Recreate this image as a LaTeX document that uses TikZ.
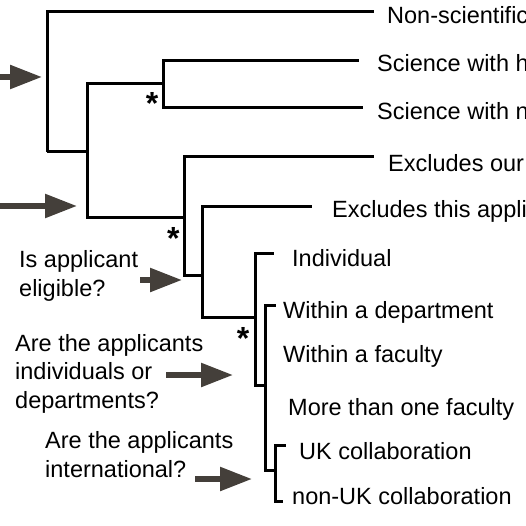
\documentclass[tikz,border=0pt]{standalone}
\usepackage{fontspec}
\setmainfont{Liberation Sans}
\usetikzlibrary{arrows.meta}
\definecolor{arrowgray}{RGB}{68,63,58}

\begin{document}
\begin{tikzpicture}[
    x=1pt, y=-1pt,
    branch/.style={draw=black, line width=3pt},
    pointer/.style={draw=arrowgray, line width=5.5pt, -{Triangle[length=32pt,width=23pt]}},
    leaf/.style={anchor=base west, inner sep=0pt, font=\fontsize{23.5}{28.3}\selectfont},
    question/.style={leaf, align=left},
    star/.style={anchor=base, inner sep=0pt, font=\fontsize{32}{32}\selectfont\bfseries}
  ]
  \useasboundingbox (0,0) rectangle (526,526);
  \clip (0,0) rectangle (526,526);

  \coordinate (n1) at (47,152);
  \coordinate (n2) at (87,152);
  \coordinate (n3) at (163,84);
  \coordinate (n4) at (184,218);
  \coordinate (n5) at (202,275);
  \coordinate (n6) at (255,317);
  \coordinate (n7) at (265,385);
  \coordinate (n8) at (275,470);
  \coordinate (tNonsci) at (374,12);
  \coordinate (tSciH) at (359,61);
  \coordinate (tSciN) at (363,108);
  \coordinate (tExclOur) at (374,157);
  \coordinate (tExclThis) at (312,207);
  \coordinate (tIndiv) at (274,253);
  \coordinate (tDept) at (276,305);
  \coordinate (tUK) at (286,445);
  \coordinate (tNonUK) at (283,501);

  \draw[branch] (n1) |- (tNonsci);
  \draw[branch] (n1) -- (n2);
  \draw[branch] (n2) |- (n3);
  \draw[branch] (n2) |- (n4);
  \draw[branch] (n3) |- (tSciH);
  \draw[branch] (n3) |- (tSciN);
  \draw[branch] (n4) |- (tExclOur);
  \draw[branch] (n4) |- (n5);
  \draw[branch] (n5) |- (tExclThis);
  \draw[branch] (n5) |- (n6);
  \draw[branch] (n6) |- (tIndiv);
  \draw[branch] (n6) |- (n7);
  \draw[branch] (n7) |- (tDept);
  \draw[branch] (n7) |- (n8);
  \draw[branch] (n8) |- (tUK);
  \draw[branch] (n8) |- (tNonUK);

  \node[leaf] (lNonsci) at (387,23.5) {Non-scientific};
  \node[leaf] (lSciH) at (377,71.5) {Science with h};
  \node[leaf] (lSciN) at (377,120) {Science with n};
  \node[leaf] (lExclOur) at (388,172) {Excludes our};
  \node[leaf] (lExclThis) at (332,217.5) {Excludes this appli};
  \node[leaf] (lIndiv) at (292,266.5) {Individual};
  \node[leaf] (lDept) at (283,318) {Within a department};
  \node[leaf] (lFac) at (283,362) {Within a faculty};
  \node[leaf] (lMulti) at (288,415) {More than one faculty};
  \node[leaf] (lUK) at (299,459.5) {UK collaboration};
  \node[leaf] (lNonUK) at (292,504) {non-UK collaboration};

  \node[star] (s1) at (152,114.7) {*};
  \node[star] (s2) at (173.3,249.9) {*};
  \node[star] (s3) at (243,349.2) {*};

  \node[question] (qElig) at (19,296) {Is applicant\\eligible?};
  \node[question] (qIndiv) at (15,408) {Are the applicants\\individuals or\\departments?};
  \node[question] (qIntl) at (45,477) {Are the applicants\\international?};

  \coordinate (a1s) at (0,77);
  \coordinate (a1e) at (42,77);
  \coordinate (a2s) at (0,206);
  \coordinate (a2e) at (77,206);
  \coordinate (a3s) at (140,280);
  \coordinate (a3e) at (182,280);
  \coordinate (a4s) at (166,375);
  \coordinate (a4e) at (233,375);
  \coordinate (a5s) at (195,479);
  \coordinate (a5e) at (252,479);
  \draw[pointer] (a1s) -- (a1e);
  \draw[pointer] (a2s) -- (a2e);
  \draw[pointer] (a3s) -- (a3e);
  \draw[pointer] (a4s) -- (a4e);
  \draw[pointer] (a5s) -- (a5e);
\end{tikzpicture}
\end{document}
